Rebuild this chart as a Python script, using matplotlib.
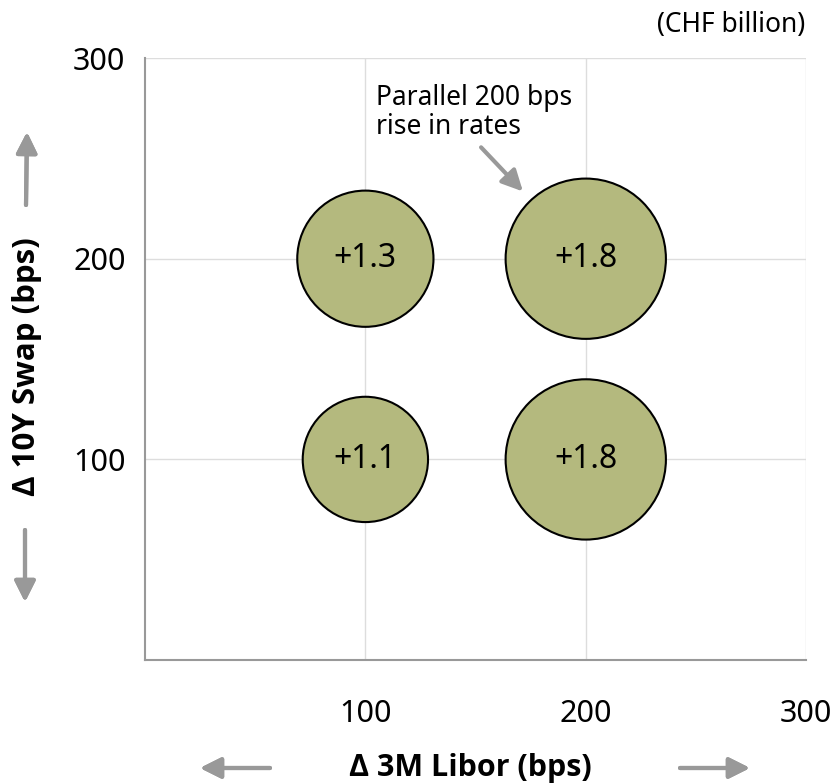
import matplotlib.pyplot as plt
import numpy as np

# data
libor = [100, 200, 100, 200]
swap = [200, 200, 100, 100]
impact = [1.3, 1.8, 1.1, 1.8]
labels = ["+1.3", "+1.8", "+1.1", "+1.8"]
ticks = [100, 200, 300]

plt.rcParams['font.family'] = ['Noto Sans', 'DejaVu Sans']

fig = plt.figure(figsize=(8.38, 7.84), dpi=100)
ax = fig.add_axes([0.173, 0.158, 0.789, 0.768])

# bubble area proportional to value
sizes = np.array(impact) * 7400
ax.scatter(libor, swap, s=sizes, color='#b4b97e', edgecolor='black', linewidth=1.5, zorder=3)
for x, y, t in zip(libor, swap, labels):
    ax.text(x, y, t, ha='center', va='center', fontsize=23, zorder=4)

ax.set_xlim(0, 300)
ax.set_ylim(0, 300)
ax.set_xticks(ticks)
ax.set_yticks(ticks)
ax.tick_params(length=0, labelsize=22)
ax.tick_params(axis='x', pad=28)
ax.tick_params(axis='y', pad=14)
ax.grid(color='#dddddd', linewidth=1)
ax.set_axisbelow(True)
for s in ['top', 'right']:
    ax.spines[s].set_visible(False)
for s in ['left', 'bottom']:
    ax.spines[s].set_color('#999999')
    ax.spines[s].set_linewidth(1.5)

arr = dict(arrowstyle='-|>,head_length=0.9,head_width=0.45', color='#999999', lw=3,
           mutation_scale=14, shrinkA=0, shrinkB=0)

ax.text(105, 287, "Parallel 200 bps\nrise in rates", fontsize=19, linespacing=1.05,
        ha='left', va='top')
ax.annotate("", xy=(171.5, 233.5), xytext=(152.5, 255.5), arrowprops=arr)

fig.text(0.961, 0.968, "(CHF billion)", ha='right', va='center', fontsize=19)

# axis titles
fig.text(0.561, 0.021, "Δ 3M Libor (bps)", ha='center', va='center', fontsize=22,
         fontweight='bold', family=['Open Sans', 'DejaVu Sans'])
fig.text(0.032, 0.532, "Δ 10Y Swap (bps)", ha='center', va='center', fontsize=22.5,
         fontweight='bold', rotation=90, family=['Open Sans', 'DejaVu Sans'])

# direction arrows
for xy, xyt in [((200, 768), (270, 768)), ((750, 768), (680, 768)),
                ((27, 132), (26, 205)), ((25, 602), (25, 530))]:
    fig.add_artist(plt.annotate("", xy=(xy[0]/838, 1-xy[1]/784), xytext=(xyt[0]/838, 1-xyt[1]/784),
                                xycoords='figure fraction', arrowprops=arr))

fig.savefig("out.png", dpi=100)
